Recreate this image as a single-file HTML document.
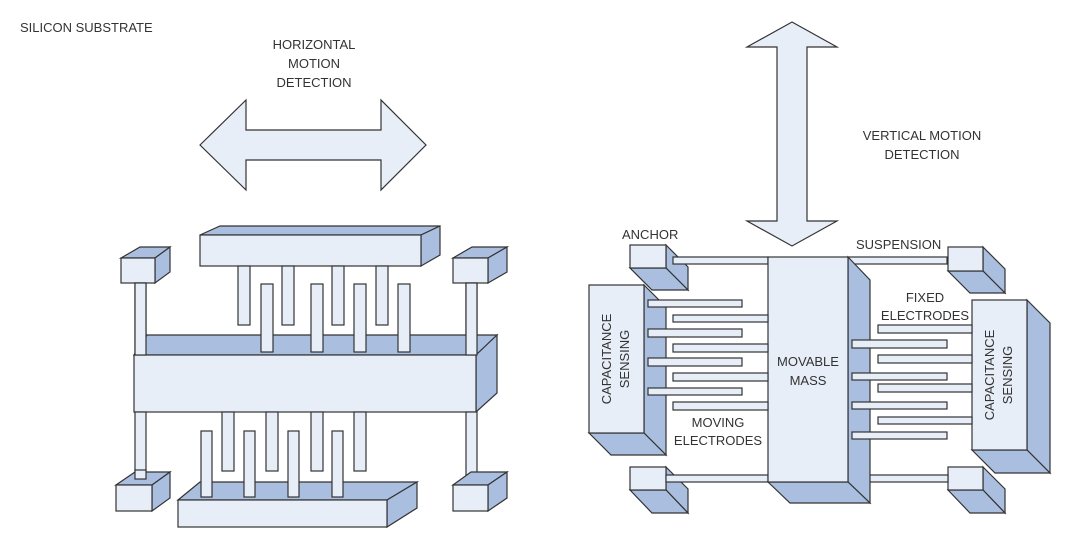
<!DOCTYPE html>
<html><head><meta charset="utf-8"><style>
html,body{margin:0;padding:0;background:#fff;}
svg{display:block;}
text{font-family:"Liberation Sans",sans-serif;fill:#333;font-size:13px;}
</style></head><body>
<svg width="1069" height="547" viewBox="0 0 1069 547" xmlns="http://www.w3.org/2000/svg">
<g stroke="#333" stroke-width="1.2" stroke-linejoin="miter">
<!-- horizontal arrow -->
<polygon points="200,145 246,100 246,130 381,130 381,100 426,145 381,190 381,160 246,160 246,190" fill="#e8eef8"/>
<!-- vertical arrow -->
<polygon points="792,22 837,47 807,47 807,221 837,221 792,246 747,221 777,221 777,47 747,47" fill="#e8eef8"/>

<!-- LEFT DIAGRAM -->
<!-- anchors top -->
<polygon points="121,258 140,247 170,247 155,258" fill="#aabfe0"/>
<polygon points="155,258 170,247 170,272 155,283" fill="#aabfe0"/>
<rect x="121" y="258" width="34" height="25" fill="#e8eef8"/>
<polygon points="453,258 472,247 507,247 488,258" fill="#aabfe0"/>
<polygon points="488,258 507,247 507,272 488,283" fill="#aabfe0"/>
<rect x="453" y="258" width="35" height="25" fill="#e8eef8"/>
<!-- columns top -->
<rect x="135" y="283" width="11" height="72" fill="#e8eef8"/>
<rect x="466" y="283" width="11" height="72" fill="#e8eef8"/>
<!-- top bar -->
<polygon points="200,235 220,226 440,226 421,235" fill="#aabfe0"/>
<polygon points="421,235 440,226 440,255 421,266" fill="#aabfe0"/>
<rect x="200" y="235" width="221" height="31" fill="#e8eef8"/>
<!-- top fixed fingers -->
<rect x="238" y="266" width="12" height="59" fill="#e8eef8"/>
<rect x="282" y="266" width="12" height="59" fill="#e8eef8"/>
<rect x="332" y="266" width="12" height="59" fill="#e8eef8"/>
<rect x="376" y="266" width="12" height="59" fill="#e8eef8"/>
<!-- mass -->
<polygon points="134,355 147,335 497,335 476,355" fill="#aabfe0"/>
<polygon points="476,355 497,335 497,393 476,412" fill="#aabfe0"/>
<rect x="134" y="355" width="342" height="57" fill="#e8eef8"/>
<!-- redraw column tops over mass top face -->
<rect x="135" y="283" width="11" height="72" fill="#e8eef8"/>
<rect x="466" y="283" width="11" height="72" fill="#e8eef8"/>
<!-- moving fingers up -->
<rect x="261" y="284" width="12" height="68" fill="#e8eef8"/>
<rect x="311" y="284" width="12" height="68" fill="#e8eef8"/>
<rect x="354" y="284" width="12" height="68" fill="#e8eef8"/>
<rect x="398" y="284" width="12" height="68" fill="#e8eef8"/>
<!-- bottom columns -->
<rect x="135" y="412" width="11" height="67" fill="#e8eef8"/>
<rect x="466" y="412" width="11" height="67" fill="#e8eef8"/>
<!-- bottom anchors -->
<polygon points="116,485 135,472 170,472 152,485" fill="#aabfe0"/>
<polygon points="152,485 170,472 170,498 152,511" fill="#aabfe0"/>
<rect x="116" y="485" width="36" height="26" fill="#e8eef8"/>
<rect x="135" y="470" width="11" height="9" fill="#e8eef8"/>
<polygon points="453,485 471,472 507,472 488,485" fill="#aabfe0"/>
<polygon points="488,485 507,472 507,498 488,511" fill="#aabfe0"/>
<rect x="453" y="485" width="35" height="26" fill="#e8eef8"/>
<!-- bottom moving fingers -->
<rect x="222" y="412" width="12" height="59" fill="#e8eef8"/>
<rect x="266" y="412" width="12" height="59" fill="#e8eef8"/>
<rect x="311" y="412" width="12" height="59" fill="#e8eef8"/>
<rect x="354" y="412" width="12" height="59" fill="#e8eef8"/>
<!-- bottom bar -->
<polygon points="178,500 200,482 417,482 387,500" fill="#aabfe0"/>
<polygon points="387,500 417,482 417,508 387,527" fill="#aabfe0"/>
<rect x="178" y="500" width="209" height="27" fill="#e8eef8"/>
<rect x="201" y="431" width="11" height="66" fill="#e8eef8"/>
<rect x="244" y="431" width="11" height="66" fill="#e8eef8"/>
<rect x="288" y="431" width="11" height="66" fill="#e8eef8"/>
<rect x="332" y="431" width="11" height="66" fill="#e8eef8"/>

<!-- RIGHT DIAGRAM -->
<!-- anchors -->
<polygon points="666,245 688,267 688,290 666,268" fill="#aabfe0"/>
<polygon points="630,268 652,290 688,290 666,268" fill="#aabfe0"/>
<rect x="630" y="245" width="36" height="23" fill="#e8eef8"/>
<polygon points="983,247 1005,269 1005,293 983,271" fill="#aabfe0"/>
<polygon points="948,271 970,293 1005,293 983,271" fill="#aabfe0"/>
<rect x="948" y="247" width="35" height="24" fill="#e8eef8"/>
<polygon points="666,467 688,489 688,513 666,490" fill="#aabfe0"/>
<polygon points="630,490 652,513 688,513 666,490" fill="#aabfe0"/>
<rect x="630" y="467" width="36" height="23" fill="#e8eef8"/>
<polygon points="983,467 1005,489 1005,513 983,490" fill="#aabfe0"/>
<polygon points="948,490 970,513 1005,513 983,490" fill="#aabfe0"/>
<rect x="948" y="467" width="35" height="23" fill="#e8eef8"/>
<!-- suspensions -->
<rect x="673" y="257" width="95" height="7" fill="#e8eef8"/>
<rect x="848" y="257" width="99" height="7" fill="#e8eef8"/>
<rect x="666" y="475" width="102" height="7" fill="#e8eef8"/>
<rect x="848" y="475" width="100" height="7" fill="#e8eef8"/>
<!-- mass -->
<polygon points="848,257 870,280 870,503 848,482" fill="#aabfe0"/>
<polygon points="768,482 790,503 870,503 848,482" fill="#aabfe0"/>
<rect x="768" y="257" width="80" height="225" fill="#e8eef8"/>
<!-- left cap box -->
<polygon points="644,285 666,307 666,455 644,433" fill="#aabfe0"/>
<polygon points="589,433 611,455 666,455 644,433" fill="#aabfe0"/>
<rect x="589" y="285" width="55" height="148" fill="#e8eef8"/>
<!-- left fingers -->
<rect x="648" y="300" width="94" height="7" fill="#e8eef8"/>
<rect x="648" y="329" width="94" height="8" fill="#e8eef8"/>
<rect x="648" y="358" width="94" height="8" fill="#e8eef8"/>
<rect x="648" y="388" width="94" height="7" fill="#e8eef8"/>
<rect x="673" y="315" width="95" height="7" fill="#e8eef8"/>
<rect x="673" y="344" width="95" height="8" fill="#e8eef8"/>
<rect x="673" y="373" width="95" height="8" fill="#e8eef8"/>
<rect x="673" y="402" width="95" height="8" fill="#e8eef8"/>
<!-- right cap box -->
<polygon points="1027,300 1050,323 1050,473 1027,450" fill="#aabfe0"/>
<polygon points="972,450 995,473 1050,473 1027,450" fill="#aabfe0"/>
<rect x="972" y="300" width="55" height="150" fill="#e8eef8"/>
<!-- right fingers -->
<rect x="852" y="340" width="95" height="8" fill="#e8eef8"/>
<rect x="852" y="373" width="95" height="7" fill="#e8eef8"/>
<rect x="852" y="402" width="95" height="7" fill="#e8eef8"/>
<rect x="852" y="432" width="95" height="7" fill="#e8eef8"/>
<rect x="878" y="325" width="94" height="8" fill="#e8eef8"/>
<rect x="878" y="355" width="94" height="8" fill="#e8eef8"/>
<rect x="878" y="384" width="94" height="8" fill="#e8eef8"/>
<rect x="878" y="417" width="94" height="7" fill="#e8eef8"/>
</g>

<text x="20" y="32" font-size="12">SILICON SUBSTRATE</text>
<g text-anchor="middle">
<text x="314" y="49">HORIZONTAL</text>
<text x="314" y="68">MOTION</text>
<text x="314" y="87">DETECTION</text>
<text x="922" y="140">VERTICAL MOTION</text>
<text x="922" y="159">DETECTION</text>
<text x="808" y="366">MOVABLE</text>
<text x="808" y="385">MASS</text>
<text x="718" y="427">MOVING</text>
<text x="718" y="445">ELECTRODES</text>
<text x="925" y="302">FIXED</text>
<text x="925" y="320">ELECTRODES</text>
<text transform="translate(611,359) rotate(-90)" x="0" y="0">CAPACITANCE</text>
<text transform="translate(629,359) rotate(-90)" x="0" y="0">SENSING</text>
<text transform="translate(994,375) rotate(-90)" x="0" y="0">CAPACITANCE</text>
<text transform="translate(1012,375) rotate(-90)" x="0" y="0">SENSING</text>
</g>
<text x="622" y="239">ANCHOR</text>
<text x="856" y="249">SUSPENSION</text>
</svg>
</body></html>
